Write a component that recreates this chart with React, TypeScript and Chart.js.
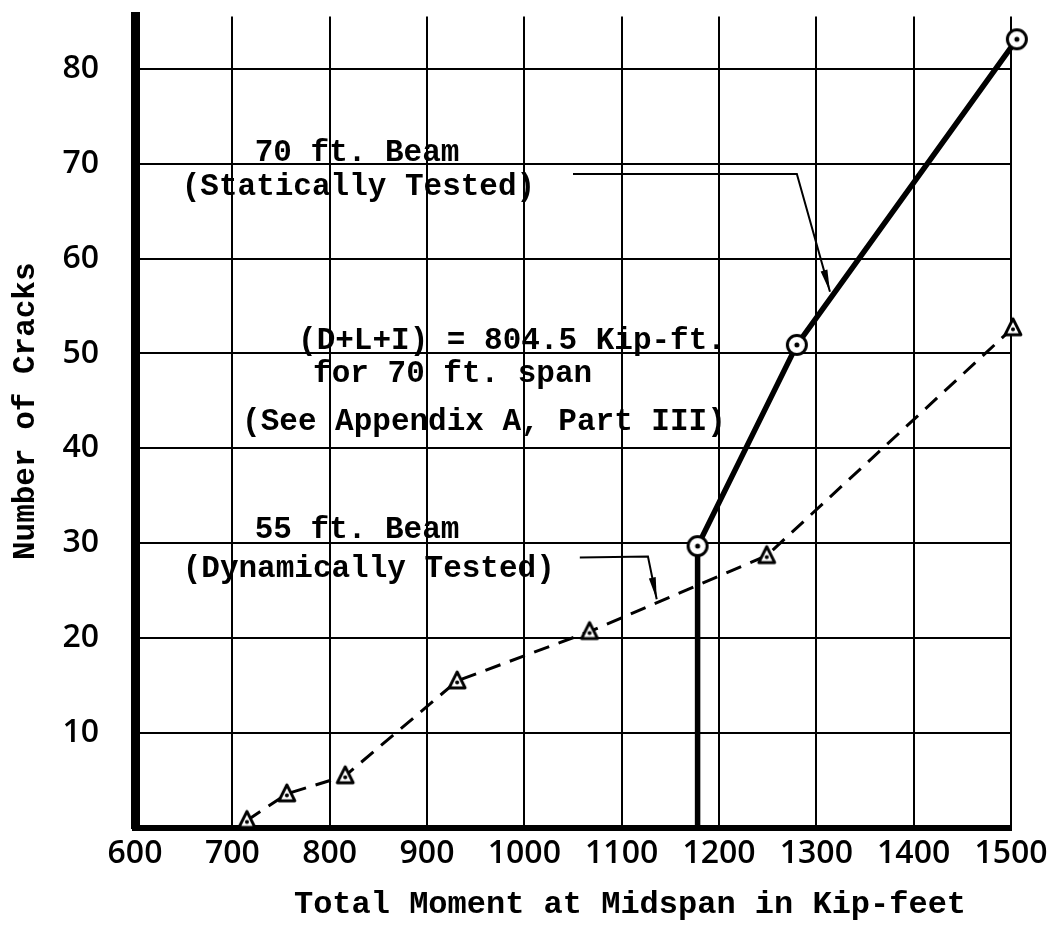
import React, { useEffect, useRef } from "react";
import { Chart, registerables } from "chart.js";

Chart.register(...registerables);

// ---- Data ----
const X_TICKS = [600, 700, 800, 900, 1000, 1100, 1200, 1300, 1400, 1500];
const Y_TICKS = [0, 10, 20, 30, 40, 50, 60, 70, 80];

// 70 ft. Beam (Statically Tested)
const STATIC_X = [1178, 1178, 1280, 1506];
const STATIC_Y = [0, 29.7, 50.9, 83.1];

// 55 ft. Beam (Dynamically Tested)
const DYN_X = [715, 756, 816, 931, 1067, 1249, 1502];
const DYN_Y = [0.8, 3.6, 5.5, 15.5, 20.7, 28.7, 52.7];

// Annotation texts (data units: left x, middle y)
const ANNOT_TEXT = [
  "70 ft. Beam",
  "(Statically Tested)",
  "(D+L+I) = 804.5 Kip-ft.",
  "for 70 ft. span",
  "(See Appendix A, Part III)",
  "55 ft. Beam",
  "(Dynamically Tested)",
];
const ANNOT_X = [723, 648, 767.5, 783, 710, 723, 649];
const ANNOT_Y = [71.1, 67.5, 51.3, 47.8, 42.8, 31.4, 27.3];

// Leader arrows
const LEADER_70_X = [1050, 1280, 1314];
const LEADER_70_Y = [68.9, 68.9, 56.5];
const LEADER_55_X = [1057, 1127, 1136];
const LEADER_55_Y = [28.5, 28.6, 24.1];

const X_TITLE = "Total Moment at Midspan in Kip-feet";
const Y_TITLE = "Number of Cracks";

function makeCircleMarker(): HTMLCanvasElement {
  const c = document.createElement("canvas");
  c.width = 26;
  c.height = 26;
  const g = c.getContext("2d")!;
  g.fillStyle = "#fff";
  g.strokeStyle = "#000";
  g.lineWidth = 3;
  g.beginPath();
  g.arc(13, 13, 9.5, 0, Math.PI * 2);
  g.fill();
  g.stroke();
  g.fillStyle = "#000";
  g.beginPath();
  g.arc(13, 13, 2.5, 0, Math.PI * 2);
  g.fill();
  return c;
}

function makeTriangleMarker(): HTMLCanvasElement {
  const c = document.createElement("canvas");
  c.width = 24;
  c.height = 24;
  const g = c.getContext("2d")!;
  g.fillStyle = "#fff";
  g.strokeStyle = "#000";
  g.lineWidth = 2.8;
  g.lineJoin = "round";
  g.beginPath();
  g.moveTo(12, 3);
  g.lineTo(20, 19);
  g.lineTo(4, 19);
  g.closePath();
  g.fill();
  g.stroke();
  g.fillStyle = "#000";
  g.beginPath();
  g.arc(12, 13.5, 2, 0, Math.PI * 2);
  g.fill();
  return c;
}

function drawLeader(ctx: CanvasRenderingContext2D, pts: { x: number; y: number }[]) {
  ctx.save();
  ctx.strokeStyle = "#000";
  ctx.fillStyle = "#000";
  ctx.lineWidth = 2;
  ctx.beginPath();
  ctx.moveTo(pts[0].x, pts[0].y);
  for (let i = 1; i < pts.length; i++) ctx.lineTo(pts[i].x, pts[i].y);
  ctx.stroke();
  const a = pts[pts.length - 2];
  const b = pts[pts.length - 1];
  const ang = Math.atan2(b.y - a.y, b.x - a.x);
  const len = 22;
  const hw = 3.5;
  ctx.translate(b.x, b.y);
  ctx.rotate(ang);
  ctx.beginPath();
  ctx.moveTo(0, 0);
  ctx.lineTo(-len, -hw);
  ctx.lineTo(-len, hw);
  ctx.closePath();
  ctx.fill();
  ctx.restore();
}

const annotationPlugin = {
  id: "annotations",
  afterDatasetsDraw(chart: any) {
    const ctx: CanvasRenderingContext2D = chart.ctx;
    const xs = chart.scales.x;
    const ys = chart.scales.y;
    const area = chart.chartArea;
    ctx.save();
    ctx.fillStyle = "#000";
    ctx.font = 'bold 31px "Liberation Mono"';
    ctx.textAlign = "left";
    ctx.textBaseline = "middle";
    for (let i = 0; i < ANNOT_TEXT.length; i++) {
      ctx.fillText(ANNOT_TEXT[i], xs.getPixelForValue(ANNOT_X[i]), ys.getPixelForValue(ANNOT_Y[i]));
    }
    const l70 = LEADER_70_X.map((v, i) => ({ x: xs.getPixelForValue(v), y: ys.getPixelForValue(LEADER_70_Y[i]) }));
    const l55 = LEADER_55_X.map((v, i) => ({ x: xs.getPixelForValue(v), y: ys.getPixelForValue(LEADER_55_Y[i]) }));
    drawLeader(ctx, l70);
    drawLeader(ctx, l55);

    // Axis titles
    ctx.font = 'bold 32px "Liberation Mono"';
    ctx.textAlign = "center";
    ctx.textBaseline = "middle";
    ctx.fillText(X_TITLE, (area.left + area.right) / 2 + 57, chart.height - 26);
    ctx.save();
    ctx.translate(26, (area.top + area.bottom) / 2 - 11);
    ctx.rotate(-Math.PI / 2);
    ctx.font = 'bold 31px "Liberation Mono"';
    ctx.fillText(Y_TITLE, 0, 0);
    ctx.restore();
    ctx.restore();
  },
};

export default function App() {
  const canvasRef = useRef<HTMLCanvasElement | null>(null);

  useEffect(() => {
    const canvas = canvasRef.current;
    if (!canvas) return;
    const circle = makeCircleMarker();
    const tri = makeTriangleMarker();

    const chart = new Chart(canvas, {
      type: "line",
      data: {
        datasets: [
          {
            label: "70 ft. Beam (Statically Tested)",
            data: STATIC_X.map((x, i) => ({ x, y: STATIC_Y[i] })),
            borderColor: "#000",
            borderWidth: 5.5,
            pointStyle: circle as any,
            pointRadius: STATIC_X.map((_, i) => (i === 0 ? 0 : 11)),
            clip: false as any,
            tension: 0,
            order: 1,
          },
          {
            label: "55 ft. Beam (Dynamically Tested)",
            data: DYN_X.map((x, i) => ({ x, y: DYN_Y[i] })),
            borderColor: "#000",
            borderWidth: 3,
            borderDash: [16, 10],
            pointStyle: tri as any,
            pointRadius: 11,
            clip: false as any,
            tension: 0,
            order: 2,
          },
        ],
      },
      options: {
        animation: false,
        responsive: false,
        maintainAspectRatio: false,
        layout: { padding: { left: 0, right: 50, top: 10, bottom: 0 } },
        plugins: {
          legend: { display: false },
          tooltip: { enabled: false },
        },
        scales: {
          x: {
            type: "linear",
            min: X_TICKS[0],
            max: X_TICKS[X_TICKS.length - 1],
            afterBuildTicks: (scale: any) => {
              scale.ticks = X_TICKS.map((v) => ({ value: v }));
            },
            afterFit: (scale: any) => {
              scale.height = 103;
              scale.paddingLeft = 0;
              scale.paddingRight = 0;
            },
            grid: { color: "#000", lineWidth: 2, drawTicks: false },
            border: { color: "#000", width: 6 },
            ticks: {
              color: "#000",
              padding: 7,
              maxRotation: 0,
              autoSkip: false,
              callback: (v: any) => String(v),
              font: { family: '"Open Sans"', size: 32, weight: "600" as any },
            },
          },
          y: {
            type: "linear",
            min: 0,
            max: 85.5,
            afterBuildTicks: (scale: any) => {
              scale.ticks = Y_TICKS.map((v) => ({ value: v }));
            },
            afterFit: (scale: any) => {
              scale.width = 135;
              scale.paddingTop = 0;
              scale.paddingBottom = 0;
            },
            grid: { color: "#000", lineWidth: 2, drawTicks: false },
            border: { color: "#000", width: 9 },
            ticks: {
              color: "#000",
              padding: 36,
              autoSkip: false,
              callback: (v: any) => (Number(v) === 0 ? "" : String(v)),
              font: { family: '"Open Sans"', size: 32, weight: "600" as any },
            },
          },
        },
      },
      plugins: [annotationPlugin],
    });
    return () => chart.destroy();
  }, []);

  return (
    <div style={{ position: "absolute", left: 0, top: 0, width: 1061, height: 931, background: "#fff" }}>
      <canvas ref={canvasRef} width={1061} height={931} style={{ display: "block" }} />
    </div>
  );
}
